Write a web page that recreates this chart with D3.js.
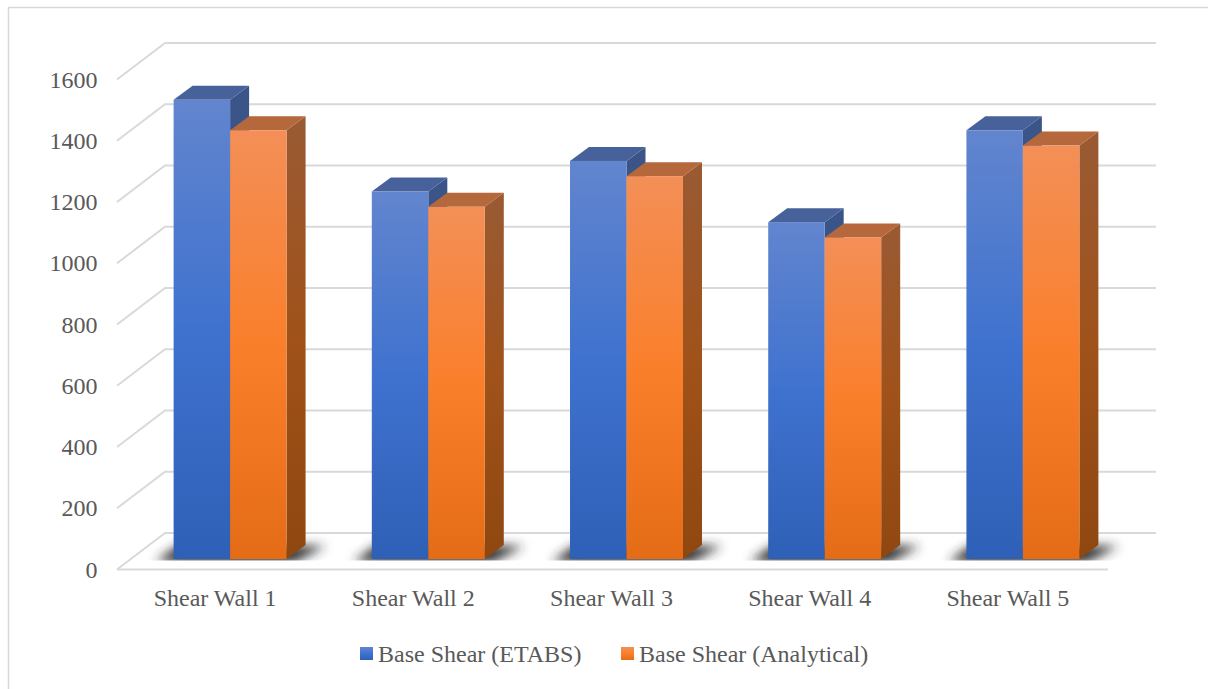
<!DOCTYPE html>
<html>
<head>
<meta charset="utf-8">
<script src="https://cdn.jsdelivr.net/npm/d3@7/dist/d3.min.js"></script>
<style>
html,body{margin:0;padding:0;background:#fff;}
svg{display:block;}
text{font-family:"Liberation Serif",serif;fill:#595959;}
</style>
</head>
<body>
<script>
// Base shear per shear wall, two calculation methods
const categories = ["Shear Wall 1","Shear Wall 2","Shear Wall 3","Shear Wall 4","Shear Wall 5"];
const etabsValues = [1500,1200,1300,1100,1400];
const analyticalValues = [1400,1150,1250,1050,1350];
const seriesNames = ["Base Shear (ETABS)","Base Shear (Analytical)"];
const tickValues = [0,200,400,600,800,1000,1200,1400,1600];

const W = 1208, H = 689;
const depth = {dx:19, dy:-14};         // receding edge of each column
const wallShift = {dx:48, dy:-36.5};   // front of floor to back wall
const floorY = 569.5, topY = 79.5, left = 117, right = 1108;
const barShift = {dx:14, dy:-10.5};    // columns sit inside the floor

const svg = d3.select("body").append("svg").attr("width",W).attr("height",H);
const defs = svg.append("defs");

function gradient(id, stops){
  const g = defs.append("linearGradient").attr("id",id)
    .attr("x1",0).attr("y1",0).attr("x2",0).attr("y2",1);
  stops.forEach(([o,c]) => g.append("stop").attr("offset",o).attr("stop-color",c));
}
gradient("frontBlue",[[0,"#6285ce"],[0.5,"#3f72cf"],[1,"#2f60b7"]]);
gradient("sideBlue",[[0,"#3c5587"],[0.5,"#2a4f91"],[1,"#1f4687"]]);
gradient("frontOrange",[[0,"#f38f57"],[0.5,"#fa7f2b"],[1,"#e56c17"]]);
gradient("sideOrange",[[0,"#995a33"],[0.5,"#a0521a"],[1,"#8f4710"]]);
const blur = defs.append("filter").attr("id","soft").attr("filterUnits","userSpaceOnUse")
  .attr("x",0).attr("y",500).attr("width",W).attr("height",100);
blur.append("feGaussianBlur").attr("stdDeviation",5.5);

const palette = [
  {front:"url(#frontBlue)", side:"url(#sideBlue)", top:"#47619b"},
  {front:"url(#frontOrange)", side:"url(#sideOrange)", top:"#b5683c"}
];

const y = d3.scaleLinear().domain([0,1600]).range([floorY,topY]);
const x = d3.scaleBand().domain(categories).range([left,right]).paddingInner(0.43).paddingOuter(0.215);
const inner = d3.scaleBand().domain([0,1]).range([0,x.bandwidth()]);
const barH = d => y(0) - y(d);

// outer frame, open on the right and the bottom
svg.append("path").attr("d",`M8.5,${H}V7.5H${W}`).attr("fill","none")
  .attr("stroke","#d9d9d9").attr("stroke-width",1.5);

// side wall and back wall gridlines
const grid = svg.append("g").attr("fill","none").attr("stroke","#d9d9d9").attr("stroke-width",2);
grid.selectAll("path").data(tickValues).join("path")
  .attr("d", d => {
    const yy = y(d);
    return `M${left},${yy}L${left+wallShift.dx},${yy+wallShift.dy}H${right+wallShift.dx}`;
  });
// front edge of the floor
grid.append("line").attr("x1",left).attr("x2",right).attr("y1",floorY).attr("y2",floorY);

// value axis labels
const axis = d3.axisLeft(y).tickValues(tickValues).tickSize(0).tickPadding(0).tickFormat(d3.format("d"));
const axisG = svg.append("g").attr("transform","translate(97.5,0)").call(axis);
axisG.select(".domain").remove();
axisG.selectAll("text").attr("font-size",24).attr("font-family","Liberation Serif").attr("fill","#595959")
  .attr("dy","0.32em");

// category labels
svg.append("g").selectAll("text").data(categories).join("text")
  .attr("x", d => x(d)+x.bandwidth()/2-1)
  .attr("y", 606)
  .attr("text-anchor","middle")
  .attr("font-size",24)
  .text(d => d);

// soft contact shadows on the floor, cut off just under the column feet
const base = y(0)+barShift.dy;
defs.append("clipPath").attr("id","floorClip").append("rect")
  .attr("x",0).attr("y",base-40).attr("width",W).attr("height",41.5);
svg.append("g").attr("clip-path","url(#floorClip)")
  .selectAll("path").data(categories).join("path")
  .attr("fill","#2b2b2b").attr("filter","url(#soft)")
  .attr("d", d => {
    const x0 = x(d)+barShift.dx, x1 = x0+x.bandwidth();
    return `M${x0-18},${base+3}L${x0+4},${base-13}H${x1+depth.dx+20}L${x1+8},${base+3}Z`;
  });

// columns, one group per wall
const groups = svg.append("g").selectAll("g").data(categories).join("g")
  .attr("transform", d => `translate(${x(d)+barShift.dx},${barShift.dy})`);

groups.each(function(cat,i){
  const g = d3.select(this);
  [etabsValues[i], analyticalValues[i]].forEach((v,s) => {
    const bx = inner(s), w = inner.bandwidth(), t = y(v), b = y(0);
    const c = palette[s];
    g.append("path").attr("fill",c.side)
      .attr("d",`M${bx+w},${t}l${depth.dx},${depth.dy}V${b+depth.dy}l${-depth.dx},${-depth.dy}Z`);
    g.append("path").attr("fill",c.top)
      .attr("d",`M${bx},${t}l${depth.dx},${depth.dy}h${w}l${-depth.dx},${-depth.dy}Z`);
    g.append("rect").attr("x",bx).attr("y",t).attr("width",w).attr("height",barH(v)).attr("fill",c.front);
  });
});

// legend
const legendX = [360,621];
const legend = svg.append("g").selectAll("g").data(seriesNames).join("g")
  .attr("transform",(d,i)=>`translate(${legendX[i]},647)`);
legend.append("rect").attr("width",13).attr("height",13)
  .attr("fill",(d,i)=> i===0 ? "url(#frontBlue)" : "url(#frontOrange)");
legend.append("text").attr("x",18).attr("y",15).attr("font-size",24).text(d=>d);
</script>
</body>
</html>
